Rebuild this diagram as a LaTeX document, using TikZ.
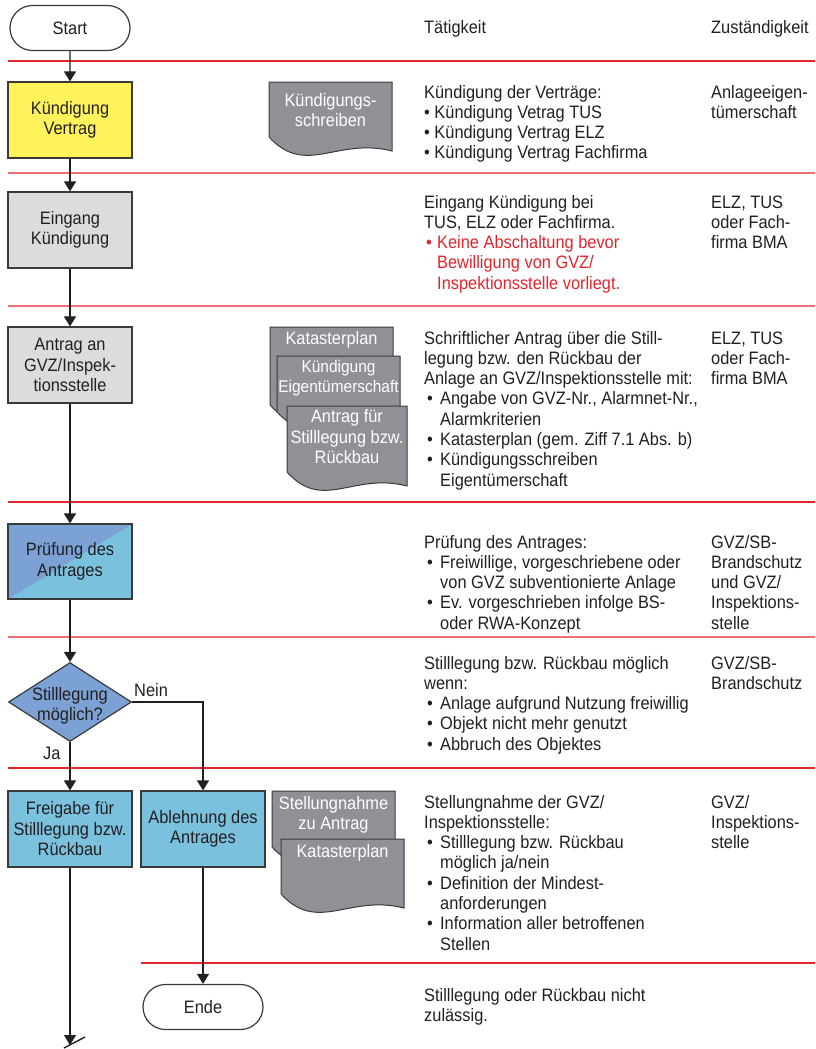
\documentclass[tikz,border=0pt]{standalone}
\usepackage{fontspec}
\setmainfont{Liberation Sans}[FakeStretch=0.91]
\usetikzlibrary{shapes.geometric,shapes.misc,arrows.meta}

\definecolor{ink}{HTML}{231F20}
\definecolor{edge}{HTML}{3A3A3A}
\definecolor{sepdark}{HTML}{E3262D}
\definecolor{seplight}{HTML}{EE7076}
\definecolor{redtxt}{HTML}{E5232B}
\definecolor{yellowbox}{HTML}{FFF35C}
\definecolor{greybox}{HTML}{DCDCDE}
\definecolor{docgrey}{HTML}{909196}
\definecolor{blueA}{HTML}{7BA1D5}
\definecolor{blueB}{HTML}{7AC1DE}

% bullets with hanging indent for the activity column
\newcommand\bul{\makebox[16pt][l]{\hspace{3pt}\textbullet}}
\newcommand\hng{\hspace*{16pt}}
\newcommand\rbul{\makebox[13pt][l]{\hspace{2pt}\textbullet}}
\newcommand\rhng{\hspace*{13pt}}
\newcommand\coltext[2]{\parbox[t]{#1}{\raggedright\fontsize{18}{20.3}\selectfont #2}}

% document symbol: x, y (top left), width, height of right edge
\newcommand\docshape[4]{%
  \path[doc] (#1,#2) -- ({#1+#3},#2) -- ({#1+#3},{#2+#4})
    .. controls +({-0.45*#3},-14) and +({0.3*#3},40) .. (#1,{#2+#4-14}) -- cycle;}

\tikzset{
  box/.style={draw=edge, line width=1.2pt, minimum width=124pt, minimum height=76pt,
    align=center, inner sep=2pt, text=ink},
  term/.style={box, rounded rectangle, minimum height=45pt, fill=white},
  flow/.style={draw=ink, line width=1.4pt, -{Triangle[length=10pt,width=12pt]}},
  plain/.style={draw=ink, line width=1.4pt},
  sepd/.style={line width=1.2pt, sepdark},
  sepl/.style={line width=1.6pt, seplight},
  doc/.style={fill=docgrey, draw=edge, line width=1pt},
  doctext/.style={text=white, align=center, inner sep=0pt},
  col/.style={anchor=base west, inner sep=0pt, text=ink},
}

\begin{document}
\begin{tikzpicture}[x=1pt, y=-1pt, font=\fontsize{18}{20.5}\selectfont]
\useasboundingbox (0,0) rectangle (815,1049);

% row separators
\draw[sepd] (8,61) -- (815,61);
\draw[sepl] (8,173) -- (815,173);
\draw[sepl] (8,306) -- (815,306);
\draw[sepd] (8,502) -- (815,502);
\draw[sepl] (8,637) -- (815,637);
\draw[sepd] (8,768) -- (815,768);
\draw[sepd] (141,963) -- (815,963);

% column headers
\node[col] (hdtat) at (424,34) {Tätigkeit};
\node[col] (hdzus) at (711,34) {Zuständigkeit};

% flow chart
\node[term] (start) at (70,28) {Start};
\node[box, fill=yellowbox] (kv) at (70,120) {Kündigung\\Vertrag};
\node[box, fill=greybox] (eing) at (70,230) {Eingang\\Kündigung};
\node[box, fill=greybox] (antr) at (70,365) {Antrag an\\GVZ/Inspek-\\tionsstelle};
\node[box, fill=blueB, minimum height=75pt,
  path picture={\fill[blueA] (path picture bounding box.north west)
     -- (path picture bounding box.north east)
     -- (path picture bounding box.south west) -- cycle;}] (pruef) at (70,561.5) {Prüfung des\\Antrages};
\node[draw=edge, line width=1.2pt, fill=blueA, diamond, minimum width=123pt,
  minimum height=79pt, inner sep=0pt,
  label={[align=center, text=ink, yshift=-4pt]center:Stilllegung\\möglich?}] (dec) at (70,702) {};
\node[box, fill=blueB] (frei) at (70,829) {Freigabe für\\Stilllegung bzw.\\Rückbau};
\node[box, fill=blueB] (abl) at (203,829) {Ablehnung des\\Antrages};
\node[term] (ende) at (203,1007) {Ende};
\coordinate (out) at (70,1045);

\draw[flow] (start) -- (kv);
\draw[flow] (kv) -- (eing);
\draw[flow] (eing) -- (antr);
\draw[flow] (antr) -- (pruef);
\draw[flow] (pruef) -- (dec);
\draw[flow] (dec) -- (frei);
\draw[flow] (dec.east) -| (abl.north);
\draw[flow] (abl) -- (ende);
\draw[flow] (frei) -- (out);
\draw[plain] ([shift={(-6,3)}]out) -- ([shift={(15,-8)}]out);

\node[col] (nein) at (134,696.5) {Nein};
\node[col] (ja) at (43,759.5) {Ja};

% documents
\docshape{269}{82}{123}{69}
\node[doctext] (dkue) at (330.5,110) {Kündigungs-\\schreiben};

\docshape{270}{327}{123}{92}
\node[doctext] (dkat) at (331.5,340) {Katasterplan};
\docshape{277}{356}{123}{70}
\node[doctext, font=\fontsize{17}{20.5}\selectfont] (deig) at (338.5,378) {Kündigung\\Eigentümerschaft};
\docshape{287}{406}{120}{80}
\node[doctext] (dant) at (347,437) {Antrag für\\Stilllegung bzw.\\Rückbau};

\docshape{272}{791}{123}{70}
\node[doctext] (dstel) at (333.5,815) {Stellungnahme\\zu Antrag};
\docshape{281}{839}{123}{69}
\node[doctext] (dkat2) at (342.5,853) {Katasterplan};

% activity column
\node[col] (t1) at (424,98) {\coltext{290pt}{Kündigung der Verträge:\\
  \textbullet\ Kündigung Vetrag TUS\\
  \textbullet\ Kündigung Vertrag ELZ\\
  \textbullet\ Kündigung Vertrag Fachfirma}};
\node[col] (t2) at (424,208) {\coltext{290pt}{Eingang Kündigung bei\\
  TUS, ELZ oder Fachfirma.\\
  \color{redtxt}\rbul Keine Abschaltung bevor\\
  \rhng Bewilligung von GVZ/\\
  \rhng Inspektionsstelle vorliegt.}};
\node[col] (t3) at (424,344) {\coltext{290pt}{Schriftlicher Antrag über die Still-\\
  legung bzw. den Rückbau der\\
  Anlage an GVZ/Inspektionsstelle mit:\\
  \bul Angabe von GVZ-Nr., Alarmnet-Nr.,\\
  \hng Alarmkriterien\\
  \bul Katasterplan (gem. Ziff 7.1 Abs. b)\\
  \bul Kündigungsschreiben\\
  \hng Eigentümerschaft}};
\node[col] (t4) at (424,548) {\coltext{290pt}{Prüfung des Antrages:\\
  \bul Freiwillige, vorgeschriebene oder\\
  \hng von GVZ subventionierte Anlage\\
  \bul Ev. vorgeschrieben infolge BS-\\
  \hng oder RWA-Konzept}};
\node[col] (t5) at (424,669) {\coltext{290pt}{Stilllegung bzw. Rückbau möglich\\
  wenn:\\
  \bul Anlage aufgrund Nutzung freiwillig\\
  \bul Objekt nicht mehr genutzt\\
  \bul Abbruch des Objektes}};
\node[col] (t6) at (424,808) {\coltext{290pt}{Stellungnahme der GVZ/\\
  Inspektionsstelle:\\
  \bul Stilllegung bzw. Rückbau\\
  \hng möglich ja/nein\\
  \bul Definition der Mindest-\\
  \hng anforderungen\\
  \bul Information aller betroffenen\\
  \hng Stellen}};
\node[col] (t7) at (424,1001) {\coltext{290pt}{Stilllegung oder Rückbau nicht\\
  zulässig.}};

% responsibility column
\node[col] (r1) at (711,98) {\coltext{104pt}{Anlageeigen-\\tümerschaft}};
\node[col] (r2) at (711,208) {\coltext{104pt}{ELZ, TUS\\oder Fach-\\firma BMA}};
\node[col] (r3) at (711,344) {\coltext{104pt}{ELZ, TUS\\oder Fach-\\firma BMA}};
\node[col] (r4) at (711,548) {\coltext{104pt}{GVZ/SB-\\Brandschutz\\und GVZ/\\Inspektions-\\stelle}};
\node[col] (r5) at (711,669) {\coltext{104pt}{GVZ/SB-\\Brandschutz}};
\node[col] (r6) at (711,808) {\coltext{104pt}{GVZ/\\Inspektions-\\stelle}};
\end{tikzpicture}
\end{document}
